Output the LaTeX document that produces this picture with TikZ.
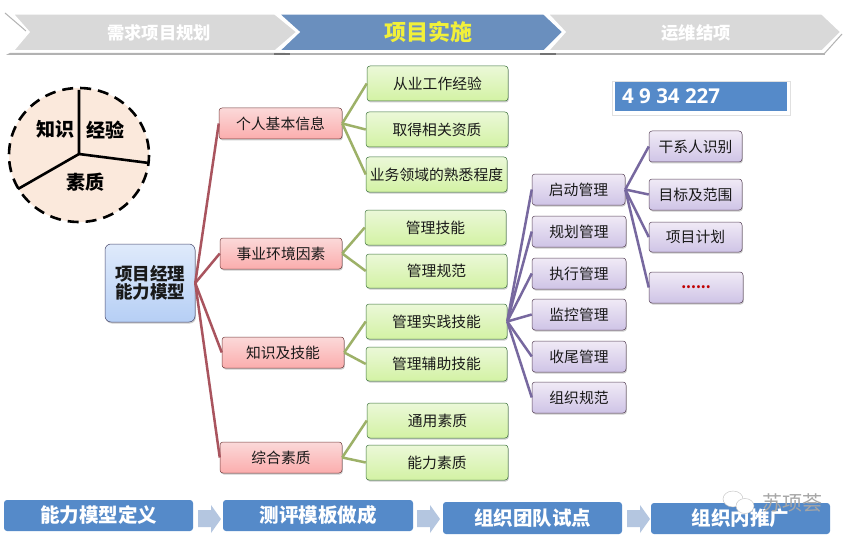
\documentclass[tikz,border=0pt]{standalone}
\usepackage{fontspec}
\setmainfont{Noto Sans CJK SC}
\newfontfamily\latinbold{Open Sans}
\usetikzlibrary{shadows}
\definecolor{redline}{HTML}{A9545E}
\definecolor{greenline}{HTML}{9DB168}
\definecolor{purpline}{HTML}{77689F}
\definecolor{barblue}{HTML}{558AC9}
\definecolor{chevblue}{HTML}{6A8FBE}
\definecolor{chevgrey}{HTML}{D9D9D9}
\definecolor{EBF8D8}{HTML}{EBF8D8}\definecolor{D3F2A4}{HTML}{D3F2A4}
\definecolor{FBD9D9}{HTML}{FBD9D9}\definecolor{FBADAD}{HTML}{FBADAD}
\definecolor{F0EAF6}{HTML}{F0EAF6}\definecolor{CFC4E6}{HTML}{CFC4E6}
\definecolor{DFEAFB}{HTML}{DFEAFB}\definecolor{B6CFF5}{HTML}{B6CFF5}
\definecolor{B4C6E0}{HTML}{B4C6E0}
\definecolor{F1F03A}{HTML}{F1F03A}
\definecolor{FBE9DC}{HTML}{FBE9DC}
\newcommand{\bx}[7]{\node[#1,minimum width={(#5-#3)*1pt},minimum height={(#6-#4)*1pt}] (#2) at ({(#3+#5)/2},{(#4+#6)/2}) {#7};}
\newcommand{\fs}[1]{\fontsize{#1}{#1}\selectfont}
\tikzset{
  basebox/.style={rounded corners=3pt,inner sep=0pt,draw=#1!70!black,line width=0.5pt,
     drop shadow={shadow xshift=0.8pt,shadow yshift=-1.5pt,opacity=0.4},text=black!90},
  greenbox/.style={basebox=green!30!gray,top color=EBF8D8,bottom color=D3F2A4,font=\fs{14.8}},
  redbox/.style={basebox=red!30!gray,top color=FBD9D9,bottom color=FBADAD,font=\fs{14.8}},
  purpbox/.style={basebox=violet!25!gray,top color=F0EAF6,bottom color=CFC4E6,font=\fs{14.8}},
  centerbox/.style={basebox=blue!20!gray,top color=DFEAFB,bottom color=B6CFF5,rounded corners=6pt,align=center,
     font=\fs{17.5}\bfseries},
  redcon/.style={draw=redline,line width=2.5pt},
  greencon/.style={draw=greenline,line width=2.5pt},
  purpcon/.style={draw=purpline,line width=2.5pt},
  chev/.style={draw=white,line width=1.5pt,line join=miter},
  bottombox/.style={fill=barblue,rounded corners=3pt,inner sep=0pt,text=white,font=\fs{19.5}\bfseries},
  flowarrow/.style={fill=B4C6E0,draw=none},
  sectorlabel/.style={font=\fs{19}\bfseries,text=black,inner sep=0pt},
  spoke/.style={draw=black,line width=2.6pt,line cap=butt},
  toplabel/.style={inner sep=0pt,font=\fs{17.3}\bfseries,text=white},
}
\begin{document}
\begin{tikzpicture}[x=1pt,y=-1pt]
\useasboundingbox (0,0) rectangle (850,540);
\fill[white] (0,0) rectangle (850,540);
% top chevrons
\fill[black!30] (10,53) -- (285,53) -- (285,55) -- (6,55) -- cycle;
\fill[black!30] (285,53) -- (550,53) -- (550,55) -- (285,55) -- cycle;
\fill[black!30] (550,53) -- (825,53) -- (825,55) -- (550,55) -- cycle;
\fill[black!55] (274,53) rectangle (290,55);
\fill[black!55] (540,53) rectangle (556,55);
\draw[black!30,line width=1pt] (5,13) -- (26,31);
\draw[black!30,line width=1pt] (842,34) -- (824,54);
\path[chev,fill=chevblue] (279,14) -- (544,14) -- (563,32) -- (544,51) -- (279,51) -- (299,32) -- cycle;
\path[chev,fill=chevgrey] (13,14) -- (275,14) -- (297,32) -- (275,51) -- (13,51) -- (29,32) -- cycle;
\path[chev,fill=chevgrey] (548,14) -- (822,14) -- (841,32) -- (822,51) -- (548,51) -- (565,32) -- cycle;
\node[toplabel] (phaseA) at (159,33) {需求项目规划};
\node[toplabel,font=\fs{22}\bfseries,text=F1F03A] (phaseB) at (428,32) {项目实施};
\node[toplabel] (phaseC) at (696,33) {运维结项};
% circle
\fill[FBE9DC] (79,155) ellipse [x radius=70,y radius=67];
\draw[black,line width=2.6pt,dash pattern=on 11pt off 7pt] (79,155) ellipse [x radius=70,y radius=67];
\coordinate (hub) at (79,154);
\coordinate (spokeA) at (79,90);
\coordinate (spokeB) at (149,163);
\coordinate (spokeC) at (18,189);
\draw[spoke] (spokeA) -- (hub) -- (spokeB);
\draw[spoke] (hub) -- (spokeC);
\node[sectorlabel] (zhishi) at (55,129) {知识};
\node[sectorlabel] (jingyan) at (105,130) {经验};
\node[sectorlabel] (suzhi) at (85,182) {素质};
% number bar
\node[fill=white,draw=black!12,line width=0.6pt,inner sep=0pt,minimum width=178pt,minimum height=34pt,
  drop shadow={shadow xshift=0pt,shadow yshift=-1pt,opacity=0.2}] (numback) at (701,98) {};
\bx{fill=barblue,inner sep=0pt}{numbar}{615}{82}{787}{111}{}
\node[inner sep=0pt,text=white,font=\latinbold\fs{20.5}\bfseries,anchor=west] (numtext) at (622,96) {4 9 34 227};
% boxes
\bx{centerbox}{root}{105}{244}{195}{322}{项目经理\\能力模型}
\bx{redbox}{ra}{219}{108}{342}{139}{个人基本信息}
\bx{redbox}{rb}{220}{238}{342}{269}{事业环境因素}
\bx{redbox}{rc}{222}{337}{344}{368}{知识及技能}
\bx{redbox}{rd}{220}{442}{342}{473}{综合素质}
\bx{greenbox}{ga}{367}{66}{508}{101}{从业工作经验}
\bx{greenbox}{gb}{366}{112}{508}{147}{取得相关资质}
\bx{greenbox}{gc}{366}{157}{507}{192}{业务领域的熟悉程度}
\bx{greenbox}{gd}{365}{210}{506}{245}{管理技能}
\bx{greenbox}{ge}{366}{254}{507}{288}{管理规范}
\bx{greenbox}{gf}{366}{304}{507}{339}{管理实践技能}
\bx{greenbox}{gg}{366}{347}{507}{381}{管理辅助技能}
\bx{greenbox}{gh}{367}{403}{508}{438}{通用素质}
\bx{greenbox}{gi}{366}{445}{508}{480}{能力素质}
\bx{purpbox}{pa}{532}{174}{625}{205}{启动管理}
\bx{purpbox}{pb}{532}{216}{626}{247}{规划管理}
\bx{purpbox}{pc}{532}{258}{626}{289}{执行管理}
\bx{purpbox}{pd}{532}{299}{626}{330}{监控管理}
\bx{purpbox}{pe}{532}{341}{626}{372}{收尾管理}
\bx{purpbox}{pf}{532}{382}{626}{413}{组织规范}
\bx{purpbox}{qa}{649}{131}{742}{162}{干系人识别}
\bx{purpbox}{qb}{649}{179}{742}{210}{目标及范围}
\bx{purpbox}{qc}{649}{222}{742}{252}{项目计划}
\bx{purpbox,text=red!75!black,font=\fs{14}\bfseries}{qd}{649}{272}{743}{303}{......}
% connectors
\foreach \t in {ra,rb,rc,rd} \draw[redcon] (root.east) -- (\t.west);
\foreach \t in {ga,gb,gc} \draw[greencon] (ra.east) -- (\t.west);
\foreach \t in {gd,ge} \draw[greencon] (rb.east) -- (\t.west);
\foreach \t in {gf,gg} \draw[greencon] (rc.east) -- (\t.west);
\foreach \t in {gh,gi} \draw[greencon] (rd.east) -- (\t.west);
\foreach \t in {pa,pb,pc,pd,pe,pf} \draw[purpcon] (gf.east) -- (\t.west);
\foreach \t in {qa,qb,qc,qd} \draw[purpcon] (pa.east) -- (\t.west);
% bottom process
\bx{bottombox}{ba}{4}{500}{193}{531}{能力模型定义}
\bx{bottombox}{bb}{223}{500}{413}{531}{测评模板做成}
\bx{bottombox}{bc}{443}{502}{622}{534}{组织团队试点}
\bx{bottombox}{bd}{651}{503}{830}{534}{组织内推广}
\fill[flowarrow] (198,510) -- (211,510) -- (211,505) -- (221,519) -- (211,533) -- (211,527) -- (198,527) -- cycle;
\fill[flowarrow] (417,510) -- (430,510) -- (430,505) -- (440,519) -- (430,533) -- (430,527) -- (417,527) -- cycle;
\fill[flowarrow] (627,510) -- (640,510) -- (640,505) -- (650,519) -- (640,533) -- (640,527) -- (627,527) -- cycle;
% watermark
\fill[white,draw=black!25,line width=0.4pt] (733,499) ellipse [x radius=10,y radius=8];
\fill[white,draw=black!25,line width=0.4pt] (745,506) ellipse [x radius=9,y radius=7.5];
\node[inner sep=0pt,text=black!35,font=\fs{20}] (mark) at (792,503) {苏项荟};
\end{tikzpicture}
\end{document}
